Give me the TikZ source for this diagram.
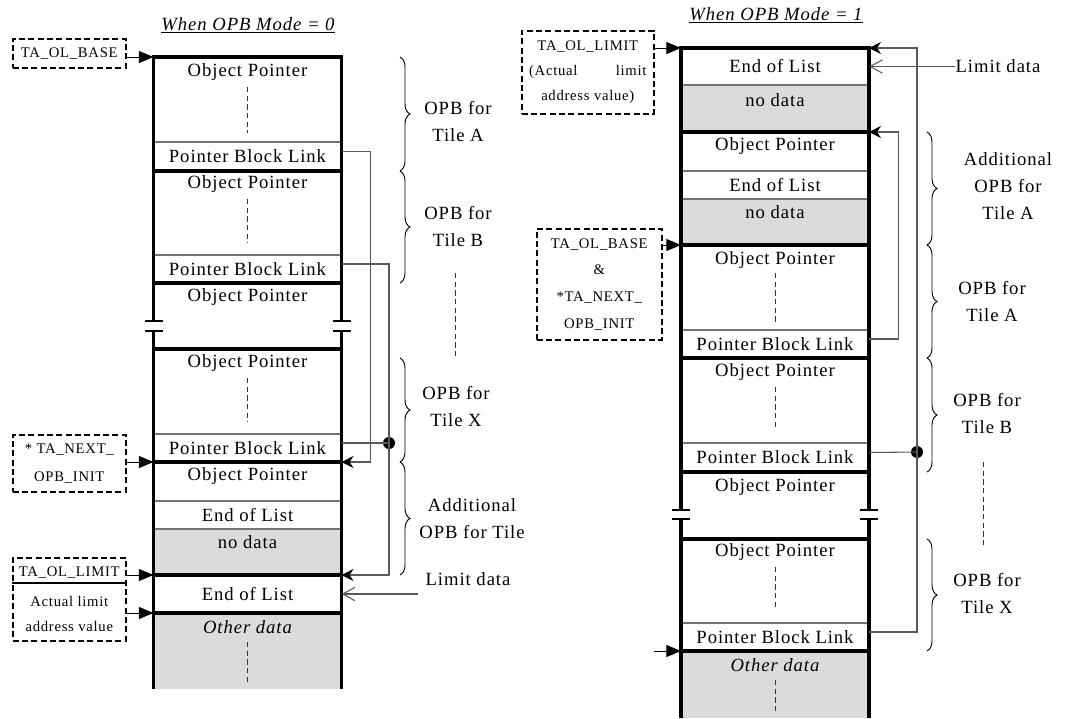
\documentclass[tikz,border=0pt]{standalone}
\usepackage{fontspec}
\setmainfont{Liberation Serif}[LetterSpace=5]
\usetikzlibrary{arrows.meta, decorations.pathreplacing}
\definecolor{nodata}{gray}{0.86}

\begin{document}
\begin{tikzpicture}[x=0.75pt, y=-0.75pt,
	txt/.style={inner sep=0pt, font=\fontsize{14}{20.25}\selectfont, align=center},
	cell/.style={txt, minimum width=141pt},
	tag/.style={draw, dash pattern=on 4.5pt off 2.5pt, line width=1.2pt, inner sep=0pt,
	            anchor=north west, align=center},
	heading/.style={inner sep=0pt, font=\fontsize{14}{16}\selectfont\itshape},
	wall/.style={line width=2.4pt},
	thickrow/.style={line width=2.4pt, line cap=rect},
	rowline/.style={draw=black!55, line width=0.8pt},
	dots/.style={dash pattern=on 4pt off 2.5pt, line width=0.75pt, draw=black!80},
	curly/.style={decorate, decoration={brace, amplitude=7.5pt}, line width=0.7pt},
	ptr/.style={-{Triangle[length=11pt,width=9pt]}, line width=0.75pt},
	back/.style={-{Stealth[length=9pt,width=9pt,inset=3pt,color=black]}, draw=black!65, line width=0.8pt},
	link/.style={draw=black!65, line width=0.8pt},
	lim/.style={-{Straight Barb[length=9pt,width=10pt]}, draw=black!65, line width=0.8pt},
	joint/.style={circle, fill, inner sep=0pt, minimum size=9pt}
	]
\useasboundingbox (0,0) rectangle (1066,718);

% Titel
\node[heading] (ttlL) at (248,25) {\underline{When OPB Mode = 0}};
\node[heading] (ttlR) at (776,15) {\underline{When OPB Mode = 1}};

% Spalte links (OPB Mode = 0)
\fill[nodata] (153.5,529) rectangle (341.5,575);
\fill[nodata] (153.5,613) rectangle (341.5,689);
\foreach \y in {142,255,434,501,529} \draw[rowline] (153.5,\y) -- (341.5,\y);
\foreach \y in {57,171,283,349,462,575,613} \draw[thickrow] (153.5,\y) -- (341.5,\y);
\draw[wall] (153.5,57) -- (153.5,321) (153.5,331) -- (153.5,689);
\draw[wall] (341.5,57) -- (341.5,321) (341.5,331) -- (341.5,689);
\foreach \y in {321,331} \draw[line width=1.1pt] (145,\y) -- (163,\y) (333,\y) -- (351,\y);
\foreach \a/\b in {87/133,199/243,378/422,642/685} \draw[dots] (247.5,\a) -- (247.5,\b);

\node[txt] (opAL) at (247.5,72) {Object Pointer};
\node[cell, minimum height=21.75pt] (lnkAL) at (247.5,156.5) {Pointer Block Link};
\node[txt] (opBL) at (247.5,184) {Object Pointer};
\node[cell, minimum height=21pt] (lnkBL) at (247.5,269) {Pointer Block Link};
\node[txt] (opCL) at (247.5,297) {Object Pointer};
\node[txt] (opXL) at (247.5,363) {Object Pointer};
\node[cell, minimum height=21pt] (lnkXL) at (247.5,448) {Pointer Block Link};
\node[txt] (opEL) at (247.5,476) {Object Pointer};
\node[cell, minimum height=21pt] (eolAL) at (247.5,515) {End of List};
\node[txt] (ndL) at (247.5,542) {no data};
\node[cell, minimum height=28.5pt] (eolBL) at (247.5,594) {End of List};
\node[txt] (othL) at (247.5,627) {\itshape Other data};

% Register links
\node[tag, font=\fontsize{11}{13}\selectfont, minimum width=84.75pt, minimum height=21.75pt]
	(baseL) at (12,38) {TA\_OL\_BASE};
\node[tag, font=\fontsize{11}{21}\selectfont, minimum width=84.75pt, minimum height=42.75pt]
	(nextL) at (12,434) {* TA\_NEXT\_\\OPB\_INIT};
\node[tag, font=\fontsize{11}{18.75}\selectfont, minimum width=84.75pt, minimum height=62.25pt]
	(limL) at (12,557) {TA\_OL\_LIMIT\\[3.75pt]Actual limit\\address value};
\coordinate (limSep) at (12,583);
\draw[line width=1.2pt] (limL.west |- limSep) -- (limL.east |- limSep);

\coordinate (wBaseL) at (153.5,57);
\coordinate (wNextL) at (153.5,462);
\coordinate (wLimL) at (153.5,575);
\coordinate (wActL) at (153.5,613);
\draw[ptr] (baseL.east |- wBaseL) -- (wBaseL);
\draw[ptr] (nextL.east |- wNextL) -- (wNextL);
\draw[ptr] (limL.east |- wLimL) -- (wLimL);
\draw[ptr] (limL.east |- wActL) -- (wActL);

% Verkettung links
\coordinate (tgtAL) at (341.5,462);
\coordinate (tgtBL) at (341.5,575);
\node[joint] (dotL) at (389,443) {};
\draw[back] ([yshift=3.75pt]lnkAL.east) -- ++(29,0) |- (tgtAL);
\draw[back] ([yshift=3.75pt]lnkBL.east) -| (dotL.center) |- (tgtBL);
\draw[link] ([yshift=3.75pt]lnkXL.east) -- (dotL.center);

\node[txt] (limDataL) at (468,579) {Limit data};
\coordinate (limFromL) at (418,594);
\draw[lim] (limFromL) -- (eolBL.east);

% Klammern links
\draw[curly] (400,57) -- (400,171);
\node[txt] (braAL) at (458,122) {OPB for\\Tile A};
\draw[curly] (400,171) -- (400,283);
\node[txt] (braBL) at (458,226.5) {OPB for\\Tile B};
\draw[dots] (455,273) -- (455,358);
\draw[curly] (400,358) -- (400,462);
\node[txt] (braXL) at (456,406.5) {OPB for\\Tile X};
\draw[curly] (400,462) -- (400,575);
\node[txt] (braDL) at (472,518.5) {Additional\\OPB for Tile};

% Spalte rechts (OPB Mode = 1)
\fill[nodata] (681,85) rectangle (869,132);
\fill[nodata] (681,199) rectangle (869,245);
\fill[nodata] (681,651) rectangle (869,718);
\foreach \y in {85,171,199,330,443,623} \draw[rowline] (681,\y) -- (869,\y);
\foreach \y in {48,132,245,358,472,539,651} \draw[thickrow] (681,\y) -- (869,\y);
\draw[wall] (681,48) -- (681,510) (681,519) -- (681,718);
\draw[wall] (869,48) -- (869,510) (869,519) -- (869,718);
\foreach \y in {510,519} \draw[line width=1.1pt] (672,\y) -- (690,\y) (860,\y) -- (878,\y);
\foreach \a/\b in {273/322,387/430,567/609,680/713} \draw[dots] (775,\a) -- (775,\b);

\node[cell, minimum height=27.75pt] (eolTopR) at (775,66.5) {End of List};
\node[txt] (ndAR) at (775,100) {no data};
\node[txt] (opAddR) at (775,146) {Object Pointer};
\node[cell, minimum height=21pt] (eolR) at (775,185) {End of List};
\node[txt] (ndBR) at (775,212) {no data};
\node[txt] (opAR) at (775,260) {Object Pointer};
\node[cell, minimum height=21pt] (lnkAR) at (775,344) {Pointer Block Link};
\node[txt] (opBR) at (775,372) {Object Pointer};
\node[cell, minimum height=21.75pt] (lnkBR) at (775,457.5) {Pointer Block Link};
\node[txt] (opCR) at (775,487) {Object Pointer};
\node[txt] (opXR) at (775,552) {Object Pointer};
\node[cell, minimum height=21pt] (lnkXR) at (775,637) {Pointer Block Link};
\node[txt] (othR) at (775,665) {\itshape Other data};

% Register rechts
\node[tag, font=\fontsize{11}{19}\selectfont, minimum width=99pt, minimum height=62.25pt]
	(limR) at (521,30) {TA\_OL\_LIMIT\\\makebox[88pt]{(Actual\hfill limit}\\address value)};
\node[tag, font=\fontsize{11}{20}\selectfont, minimum width=93.75pt, minimum height=83.25pt]
	(baseR) at (536,228) {TA\_OL\_BASE\\\&\\*TA\_NEXT\_\\OPB\_INIT};

\coordinate (wLimR) at (681,48);
\coordinate (wBaseR) at (681,245);
\coordinate (endR) at (654,651);
\coordinate (wEndR) at (681,651);
\draw[ptr] (limR.east |- wLimR) -- (wLimR);
\draw[ptr] (baseR.east |- wBaseR) -- (wBaseR);
\draw[ptr] (endR) -- (wEndR);

% Verkettung rechts
\coordinate (tgtAR) at (869,132);
\coordinate (tgtTopR) at (869,48);
\node[joint] (dotR) at (917,452) {};
\draw[back] ([yshift=3.75pt]lnkAR.east) -- ++(29,0) |- (tgtAR);
\draw[back] ([yshift=3.75pt]lnkXR.east) -| (dotR.center) |- (tgtTopR);
\draw[link] ([yshift=3.75pt]lnkBR.east) -- (dotR.center);

\node[txt] (limDataR) at (998,66.5) {Limit data};
\draw[lim] (limDataR.west) -- (eolTopR.east);

% Klammern rechts
\draw[curly] (927,132) -- (927,245);
\node[txt] (braAR) at (1008,186) {Additional\\OPB for\\Tile A};
\draw[curly] (927,245) -- (927,358);
\node[txt] (braBR) at (992,301.5) {OPB for\\Tile A};
\draw[curly] (927,358) -- (927,472);
\node[txt] (braCR) at (987,414) {OPB for\\Tile B};
\draw[dots] (983,462) -- (983,547);
\draw[curly] (927,539) -- (927,651);
\node[txt] (braXR) at (987,593.5) {OPB for\\Tile X};

\end{tikzpicture}
\end{document}
